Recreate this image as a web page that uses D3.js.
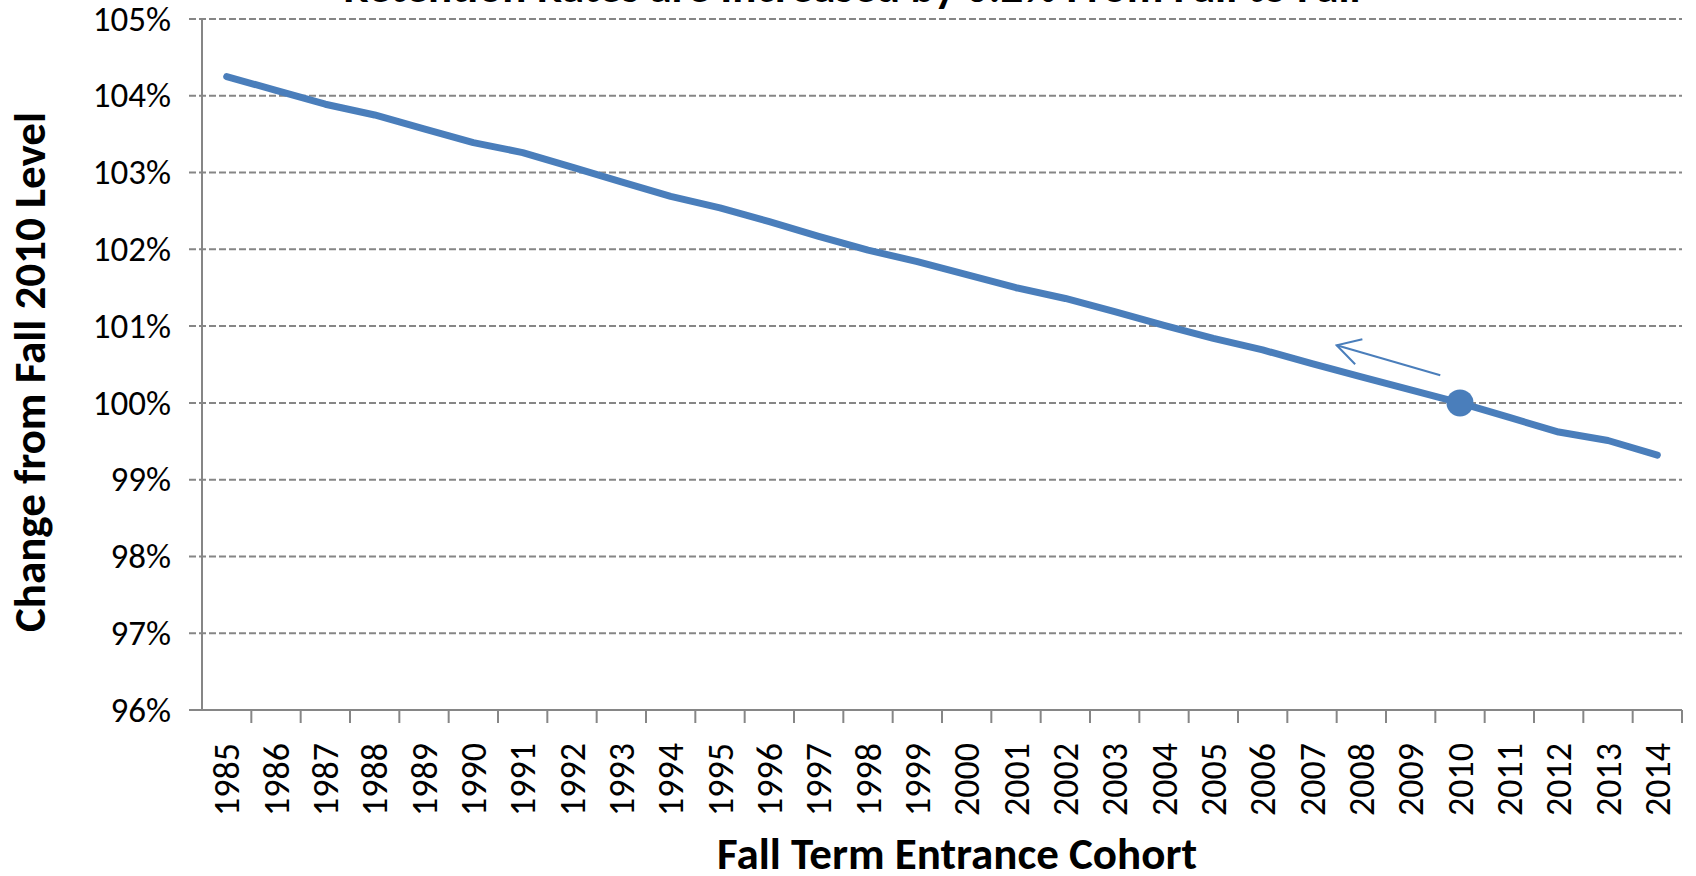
<!DOCTYPE html>
<html>
<head>
<meta charset="utf-8">
<script src="https://cdn.jsdelivr.net/npm/d3@7"></script>
<style>
  html, body { margin: 0; padding: 0; background: #fff; }
  svg { display: block; font-family: Carlito, Lato, "Open Sans", sans-serif; }
</style>
</head>
<body>
<svg id="chart"></svg>
<script>
const years = ["1985", "1986", "1987", "1988", "1989", "1990", "1991", "1992", "1993", "1994",
    "1995", "1996", "1997", "1998", "1999", "2000", "2001", "2002", "2003", "2004",
    "2005", "2006", "2007", "2008", "2009", "2010", "2011", "2012", "2013", "2014"];
const change = [104.25, 104.07, 103.89, 103.75, 103.57, 103.39, 103.26, 103.07, 102.88, 102.69,
    102.54, 102.36, 102.17, 101.99, 101.84, 101.67, 101.50, 101.36, 101.19, 101.01,
    100.84, 100.69, 100.51, 100.34, 100.17, 100.00, 99.81, 99.62, 99.51, 99.32];
const yTicks = [96, 97, 98, 99, 100, 101, 102, 103, 104, 105];
const baseYear = "2010";
// arrow annotation, in [year, value] units
const arrowFrom = [2009.6, 100.36];
const arrowTo = [2007.5, 100.75];

const title = "Retention Rates are Increased by 0.2% From Fall to Fall";
const xTitle = "Fall Term Entrance Cohort";
const yTitle = "Change from Fall 2010 Level";

const width = 1696;
const height = 876;
const plotLeft = 202, plotRight = 1682, plotTop = 19, plotBottom = 710;
const blue = "#4a7ebb";
const grey = "#868686";
const font = "Carlito, Lato, sans-serif";

const svg = d3.select("#chart")
    .attr("width", width)
    .attr("height", height);

const x = d3.scaleBand()
    .domain(years)
    .range([plotLeft, plotRight]);

const y = d3.scaleLinear()
    .domain([96, 105])
    .range([plotBottom, plotTop]);

const bw = x.bandwidth();
const xYear = d3.scaleLinear()
    .domain([+years[0], +years[years.length - 1]])
    .range([x(years[0]) + bw / 2, x(years[years.length - 1]) + bw / 2]);

// dashed gridlines (ticks stick out to the left)
svg.append("g")
    .selectAll("line")
    .data(yTicks.filter(d => d !== 96))
    .enter()
    .append("line")
    .attr("x1", plotLeft - 13)
    .attr("x2", plotRight)
    .attr("y1", d => y(d))
    .attr("y2", d => y(d))
    .attr("stroke", grey)
    .attr("stroke-width", 2)
    .attr("stroke-dasharray", "7,3");

// y axis
svg.append("g")
    .attr("id", "y-axis")
    .attr("transform", `translate(${plotLeft}, 0)`)
    .call(d3.axisLeft(y).tickValues(yTicks).tickFormat(d => d + "%").tickSize(0).tickPadding(31))
    .call(g => g.select(".domain").remove())
    .selectAll("text")
    .attr("font-family", font)
    .attr("font-size", 35)
    .attr("fill", "#000");

svg.append("line")
    .attr("x1", plotLeft).attr("x2", plotLeft)
    .attr("y1", plotTop).attr("y2", plotBottom)
    .attr("stroke", grey).attr("stroke-width", 2);

// x axis
svg.append("line")
    .attr("x1", plotLeft - 13).attr("x2", plotRight)
    .attr("y1", plotBottom).attr("y2", plotBottom)
    .attr("stroke", grey).attr("stroke-width", 2);

svg.append("g")
    .selectAll("line")
    .data(years.slice(1).map(d => x(d)).concat([plotRight]))
    .enter()
    .append("line")
    .attr("x1", d => d).attr("x2", d => d)
    .attr("y1", plotBottom).attr("y2", plotBottom + 13)
    .attr("stroke", grey).attr("stroke-width", 2);

svg.append("g")
    .attr("id", "x-axis")
    .attr("transform", `translate(0, ${plotBottom})`)
    .call(d3.axisBottom(x).tickSize(0))
    .call(g => g.select(".domain").remove())
    .selectAll("text")
    .attr("font-family", font)
    .attr("font-size", 36)
    .attr("fill", "#000")
    .attr("text-anchor", "end")
    .attr("transform", "rotate(-90)")
    .attr("x", -33)
    .attr("y", 0)
    .attr("dy", "0.35em");

// series
const line = d3.line()
    .x((d, i) => x(years[i]) + bw / 2)
    .y(d => y(d));

svg.append("path")
    .datum(change)
    .attr("d", line)
    .attr("fill", "none")
    .attr("stroke", blue)
    .attr("stroke-width", 7)
    .attr("stroke-linecap", "round")
    .attr("stroke-linejoin", "round");

const bi = years.indexOf(baseYear);
svg.append("circle")
    .attr("cx", x(baseYear) + bw / 2)
    .attr("cy", y(change[bi]))
    .attr("r", 13.5)
    .attr("fill", blue);

// arrow
svg.append("defs").append("marker")
    .attr("id", "head")
    .attr("markerUnits", "userSpaceOnUse")
    .attr("viewBox", "-26 -15 28 30")
    .attr("refX", 0).attr("refY", 0)
    .attr("markerWidth", 28).attr("markerHeight", 30)
    .attr("orient", "auto")
    .append("path")
    .attr("d", "M-23,-13L0,0L-23,13")
    .attr("fill", "none")
    .attr("stroke", blue)
    .attr("stroke-width", 2);

svg.append("line")
    .attr("x1", xYear(arrowFrom[0])).attr("y1", y(arrowFrom[1]))
    .attr("x2", xYear(arrowTo[0])).attr("y2", y(arrowTo[1]))
    .attr("stroke", blue)
    .attr("stroke-width", 2)
    .attr("marker-end", "url(#head)");

// titles
svg.append("text")
    .attr("x", 852)
    .attr("y", 2)
    .attr("text-anchor", "middle")
    .attr("font-family", font)
    .attr("font-weight", "bold")
    .attr("font-size", 45)
    .text(title);

svg.append("text")
    .attr("x", 957)
    .attr("y", 869)
    .attr("text-anchor", "middle")
    .attr("font-family", font)
    .attr("font-weight", "bold")
    .attr("font-size", 45)
    .text(xTitle);

svg.append("text")
    .attr("transform", "translate(45, 372) rotate(-90)")
    .attr("text-anchor", "middle")
    .attr("font-family", font)
    .attr("font-weight", "bold")
    .attr("font-size", 45)
    .text(yTitle);
</script>
</body>
</html>
